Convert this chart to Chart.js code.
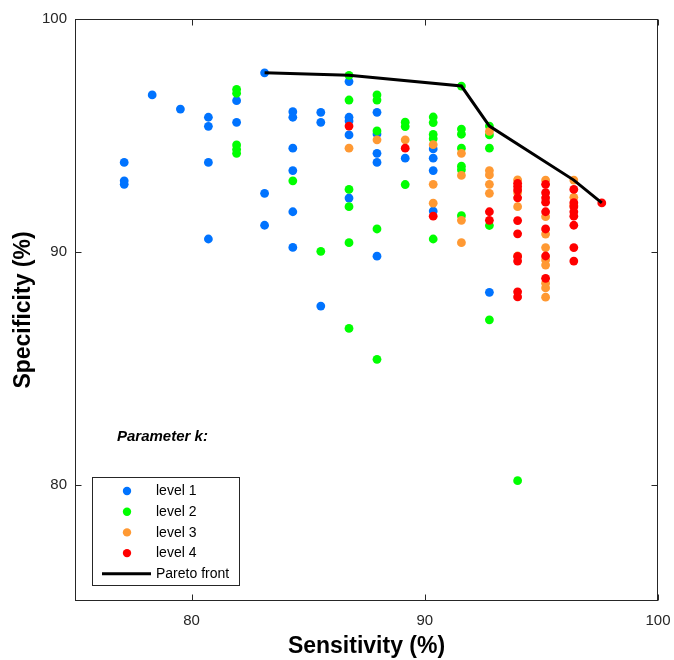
<!DOCTYPE html>
<html>
<head>
<meta charset="utf-8">
<script src="https://cdn.jsdelivr.net/npm/chart.js@4/dist/chart.umd.min.js"></script>
<style>
    body { margin: 0; background: #fff; }
    canvas { display: block; }
</style>
</head>
<body>
<canvas id="chart" width="674" height="660"></canvas>
<script>
// [sensitivity, specificity] pairs
var level1 = [
    [77.11, 93.84], [77.11, 93.05], [77.11, 92.90],
    [78.31, 96.74],
    [79.52, 96.13],
    [80.72, 95.78], [80.72, 95.39], [80.72, 93.84], [80.72, 90.55],
    [81.93, 96.49], [81.93, 95.56],
    [83.13, 97.69], [83.13, 92.51], [83.13, 91.14],
    [84.34, 96.02], [84.34, 95.78], [84.34, 94.45], [84.34, 93.49], [84.34, 91.72], [84.34, 90.19],
    [85.54, 95.99], [85.54, 95.56], [85.54, 87.67],
    [86.75, 97.31], [86.75, 95.78], [86.75, 95.62], [86.75, 95.02], [86.75, 92.31],
    [87.95, 95.99], [87.95, 95.06], [87.95, 94.23], [87.95, 93.84], [87.95, 89.81],
    [89.16, 94.02],
    [90.36, 94.42], [90.36, 94.02], [90.36, 93.49], [90.36, 91.75],
    [92.77, 88.26]
];
var level2 = [
    [81.93, 96.98], [81.93, 96.81], [81.93, 94.59], [81.93, 94.40], [81.93, 94.23],
    [84.34, 93.05],
    [85.54, 90.02],
    [86.75, 97.58], [86.75, 96.52], [86.75, 92.68], [86.75, 91.94], [86.75, 90.39], [86.75, 86.71],
    [87.95, 96.74], [87.95, 96.52], [87.95, 95.19], [87.95, 90.98], [87.95, 85.38],
    [89.16, 95.57], [89.16, 95.38], [89.16, 92.89],
    [90.36, 95.79], [90.36, 95.55], [90.36, 95.04], [90.36, 94.86], [90.36, 90.55],
    [91.57, 97.12], [91.57, 95.27], [91.57, 95.05], [91.57, 94.45], [91.57, 93.68], [91.57, 93.52], [91.57, 91.55],
    [92.77, 95.40], [92.77, 95.02], [92.77, 94.45], [92.77, 91.13], [92.77, 87.08],
    [93.98, 80.17]
];
var level3 = [
    [86.75, 94.45],
    [87.95, 94.81],
    [89.16, 94.81],
    [90.36, 94.60], [90.36, 92.90], [90.36, 92.09],
    [91.57, 94.23], [91.57, 93.28], [91.57, 91.35], [91.57, 90.39],
    [92.77, 95.17], [92.77, 93.49], [92.77, 93.30], [92.77, 92.90], [92.77, 92.51],
    [93.98, 93.09], [93.98, 92.54], [93.98, 91.94], [93.98, 89.82],
    [95.18, 93.08], [95.18, 91.51], [95.18, 90.76], [95.18, 90.18], [95.18, 89.65],
    [95.18, 89.43], [95.18, 88.65], [95.18, 88.45], [95.18, 88.05],
    [96.39, 93.08], [96.39, 92.34], [96.39, 92.00]
];
var level4 = [
    [86.75, 95.40],
    [89.16, 94.45],
    [90.36, 91.53],
    [92.77, 91.72], [92.77, 91.35],
    [93.98, 92.94], [93.98, 92.80], [93.98, 92.65], [93.98, 92.32], [93.98, 91.34],
    [93.98, 90.77], [93.98, 89.80], [93.98, 89.60], [93.98, 88.28], [93.98, 88.06],
    [95.18, 92.90], [95.18, 92.54], [95.18, 92.32], [95.18, 92.13], [95.18, 91.72],
    [95.18, 90.98], [95.18, 89.82], [95.18, 88.86],
    [96.39, 92.68], [96.39, 92.11], [96.39, 91.94], [96.39, 91.72], [96.39, 91.53],
    [96.39, 91.14], [96.39, 90.18], [96.39, 89.60],
    [97.59, 92.10]
];
var paretoSens = [83.13, 86.75, 91.57, 92.77, 96.39, 97.59];
var paretoSpec = [97.69, 97.58, 97.12, 95.40, 93.08, 92.10];

var xTicks = [80, 90, 100];
var yTicks = [80, 90, 100];

var levelLabels = ['level 1', 'level 2', 'level 3', 'level 4'];
var levelColors = ['#0073ff', '#00ff00', '#ff9933', '#ff0000'];

var FONT = '"Liberation Sans", Arial, Helvetica, sans-serif';
var AXIS_COLOR = '#262626';

function toPoints(pairs){
    return pairs.map(function(p){ return {x: p[0], y: p[1]}; });
}

var datasets = [];
[level1, level2, level3, level4].forEach(function(pairs, i){
    datasets.push({
        type: 'scatter',
        label: levelLabels[i],
        data: toPoints(pairs),
        backgroundColor: levelColors[i],
        borderWidth: 0,
        pointRadius: 4.4,
        order: 4 - i
    });
});
datasets.push({
    type: 'line',
    label: 'Pareto front',
    data: paretoSens.map(function(s, i){ return {x: s, y: paretoSpec[i]}; }),
    borderColor: '#000',
    borderWidth: 3,
    pointRadius: 0,
    fill: false,
    tension: 0,
    order: 0
});

// box around the axes with inward ticks, like the original figure
var frame = {
    id: 'frame',
    afterDatasetsDraw: function(chart){
        var ctx = chart.ctx, a = chart.chartArea;
        var xs = chart.scales.x, ys = chart.scales.y;
        var L = Math.round(a.left) + 0.5, R = Math.round(a.right) - 0.5;
        var T = Math.round(a.top) + 0.5, B = Math.round(a.bottom) - 0.5;
        ctx.save();
        ctx.strokeStyle = AXIS_COLOR;
        ctx.lineWidth = 1;
        ctx.strokeRect(L, T, R - L, B - T);
        ctx.beginPath();
        xTicks.forEach(function(v){
            var px = Math.round(xs.getPixelForValue(v)) + 0.5;
            ctx.moveTo(px, B); ctx.lineTo(px, B - 6);
            ctx.moveTo(px, T); ctx.lineTo(px, T + 6);
        });
        yTicks.forEach(function(v){
            var py = Math.round(ys.getPixelForValue(v)) + 0.5;
            ctx.moveTo(L, py); ctx.lineTo(L + 6, py);
            ctx.moveTo(R, py); ctx.lineTo(R - 6, py);
        });
        ctx.stroke();
        ctx.restore();
    }
};

// legend box inside the plot + the "Parameter k:" caption
var insideLegend = {
    id: 'insideLegend',
    afterDraw: function(chart){
        var ctx = chart.ctx, a = chart.chartArea;
        var bx = a.left + 17, by = a.top + 458;
        var bw = 147, bh = 108;
        ctx.save();
        ctx.font = 'italic bold 15px ' + FONT;
        ctx.fillStyle = '#000';
        ctx.textBaseline = 'alphabetic';
        ctx.fillText('Parameter k:', a.left + 42, a.top + 422);

        ctx.fillStyle = '#fff';
        ctx.fillRect(bx, by, bw, bh);
        ctx.strokeStyle = AXIS_COLOR;
        ctx.lineWidth = 1;
        ctx.strokeRect(Math.round(bx) + 0.5, Math.round(by) + 0.5, bw, bh);

        ctx.font = '14px ' + FONT;
        ctx.textBaseline = 'middle';
        var ds = chart.data.datasets;
        for (var i = 0; i < ds.length; i++) {
            var y = by + 14 + i * 20.7;
            if (ds[i].type === 'line') {
                ctx.strokeStyle = ds[i].borderColor;
                ctx.lineWidth = 3;
                ctx.beginPath();
                ctx.moveTo(bx + 10, y); ctx.lineTo(bx + 59, y);
                ctx.stroke();
            } else {
                ctx.fillStyle = ds[i].backgroundColor;
                ctx.beginPath();
                ctx.arc(bx + 35, y, 4.2, 0, Math.PI * 2);
                ctx.fill();
            }
            ctx.fillStyle = '#000';
            ctx.fillText(ds[i].label, bx + 64, y + 0.5);
        }
        ctx.restore();
    }
};

new Chart(document.getElementById('chart'), {
    type: 'scatter',
    data: { datasets: datasets },
    options: {
        responsive: false,
        animation: false,
        devicePixelRatio: 1,
        layout: { padding: { top: 19, right: 16, left: 0, bottom: 0 } },
        plugins: {
            legend: { display: false },
            tooltip: { enabled: false }
        },
        scales: {
            x: {
                type: 'linear',
                min: 75,
                max: 100,
                afterFit: function(scale){
                    scale.height = 59;
                    scale.paddingLeft = 0;
                    scale.paddingRight = 0;
                },
                afterBuildTicks: function(scale){
                    scale.ticks = xTicks.map(function(v){ return {value: v}; });
                },
                grid: { display: false, drawTicks: false },
                border: { display: false },
                ticks: {
                    padding: 11,
                    color: AXIS_COLOR,
                    font: { family: FONT, size: 15 },
                    maxRotation: 0
                },
                title: {
                    display: true,
                    text: 'Sensitivity (%)',
                    color: '#000',
                    font: { family: FONT, size: 23, weight: 'bold' },
                    padding: { top: 0, bottom: 0 }
                }
            },
            y: {
                type: 'linear',
                min: 75,
                max: 100,
                afterFit: function(scale){
                    scale.width = 75;
                    scale.paddingTop = 0;
                    scale.paddingBottom = 0;
                },
                afterBuildTicks: function(scale){
                    scale.ticks = yTicks.map(function(v){ return {value: v}; });
                },
                grid: { display: false, drawTicks: false },
                border: { display: false },
                ticks: {
                    padding: 8,
                    color: AXIS_COLOR,
                    font: { family: FONT, size: 15 }
                },
                title: {
                    display: true,
                    text: 'Specificity (%)',
                    color: '#000',
                    font: { family: FONT, size: 23, weight: 'bold' },
                    padding: { top: 10, bottom: 0 }
                }
            }
        }
    },
    plugins: [frame, insideLegend]
});
</script>
</body>
</html>
